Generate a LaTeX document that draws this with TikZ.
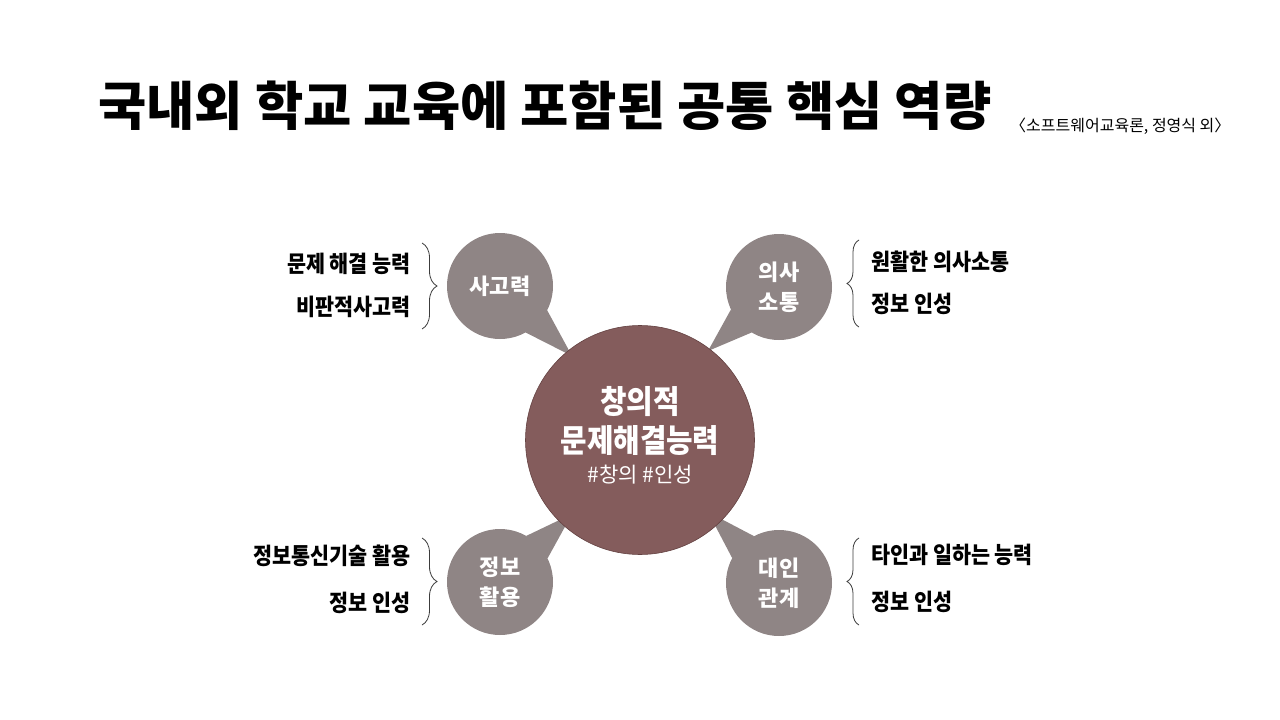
\documentclass[tikz,border=0pt]{standalone}
\usepackage{fontspec}
\setmainfont{Noto Sans CJK KR}
\newfontfamily\narrowkr{Noto Sans CJK KR}[FakeStretch=0.9]
\usetikzlibrary{calc,decorations.pathreplacing}
\definecolor{bubblegray}{RGB}{143,133,133}
\definecolor{corebrown}{RGB}{132,92,92}
\definecolor{coreline}{RGB}{100,66,66}
\definecolor{bracegray}{RGB}{60,60,60}
\begin{document}
\begin{tikzpicture}[x=1pt,y=-1pt,
  bubble/.style={circle,fill=bubblegray,minimum size=106pt,inner sep=0pt,text=white,
    font=\fontsize{22}{30}\selectfont\bfseries,align=center},
  tail/.style={fill=bubblegray},
  core/.style={circle,fill=corebrown,draw=coreline,line width=0.6pt,minimum size=229pt,inner sep=0pt},
  coretext/.style={inner sep=0pt,text=white},
  lbl/.style={inner sep=0pt,font=\narrowkr\fontsize{23}{28}\selectfont\bfseries},
  brc/.style={draw=bracegray,line width=0.8pt,decorate,decoration={brace,amplitude=#1}},
  brc/.default=14pt
]
\useasboundingbox[fill=white] (0,0) rectangle (1280,720);

% title and source
\node[anchor=west,inner sep=0pt,font=\fontsize{52.5}{60}\selectfont\bfseries] (title) at (98,106) {국내외 학교 교육에 포함된 공통 핵심 역량};
\node[anchor=west,inner sep=0pt,font=\fontsize{16}{18}\selectfont] (cite) at (1010,126) {〈소프트웨어교육론, 정영식 외〉};

% bubbles
\node[bubble] (b1) at (500,286) {사고력};
\node[bubble] (b2) at (779,287) {의사\\소통};
\node[bubble] (b3) at (500,582) {정보\\활용};
\node[bubble] (b4) at (779,583) {대인\\관계};
\coordinate (t1) at (572,356);
\coordinate (t2) at (708,351);
\coordinate (t3) at (572,514);
\coordinate (t4) at (708,512);
\foreach \i in {1,2,3,4}{
  \fill[tail] ($(b\i.center)!53pt!-17:(t\i)$) -- (t\i) -- ($(b\i.center)!53pt!17:(t\i)$) -- cycle;
}

% core
\node[core] (core) at (640,440) {};
\node[coretext,font=\narrowkr\fontsize{32}{36}\selectfont\bfseries] (c1) at (640,402) {창의적};
\node[coretext,font=\narrowkr\fontsize{32}{36}\selectfont\bfseries] (c2) at (640,441) {문제해결능력};
\node[coretext,font=\fontsize{21}{24}\selectfont] (c3) at (640,475) {\#창의 \#인성};

% labels
\node[lbl,anchor=east] (l1a) at (411,264) {문제 해결 능력};
\node[lbl,anchor=east] (l1b) at (411,307) {비판적사고력};
\node[lbl,anchor=west] (l2a) at (871,262) {원활한 의사소통};
\node[lbl,anchor=west] (l2b) at (871,304) {정보 인성};
\node[lbl,anchor=east] (l3a) at (411,556) {정보통신기술 활용};
\node[lbl,anchor=east] (l3b) at (411,603) {정보 인성};
\node[lbl,anchor=west] (l4a) at (871,555) {타인과 일하는 능력};
\node[lbl,anchor=west] (l4b) at (871,602) {정보 인성};

% braces
\coordinate (r1s) at (422,243); \coordinate (r1e) at (422,329);
\coordinate (r2s) at (859,327); \coordinate (r2e) at (859,240);
\coordinate (r3s) at (422,538); \coordinate (r3e) at (422,625);
\coordinate (r4s) at (859,625); \coordinate (r4e) at (859,538);
\draw[brc=15pt] (r1s) -- (r1e);
\draw[brc=12pt] (r2s) -- (r2e);
\draw[brc=15pt] (r3s) -- (r3e);
\draw[brc=12pt] (r4s) -- (r4e);
\end{tikzpicture}
\end{document}
